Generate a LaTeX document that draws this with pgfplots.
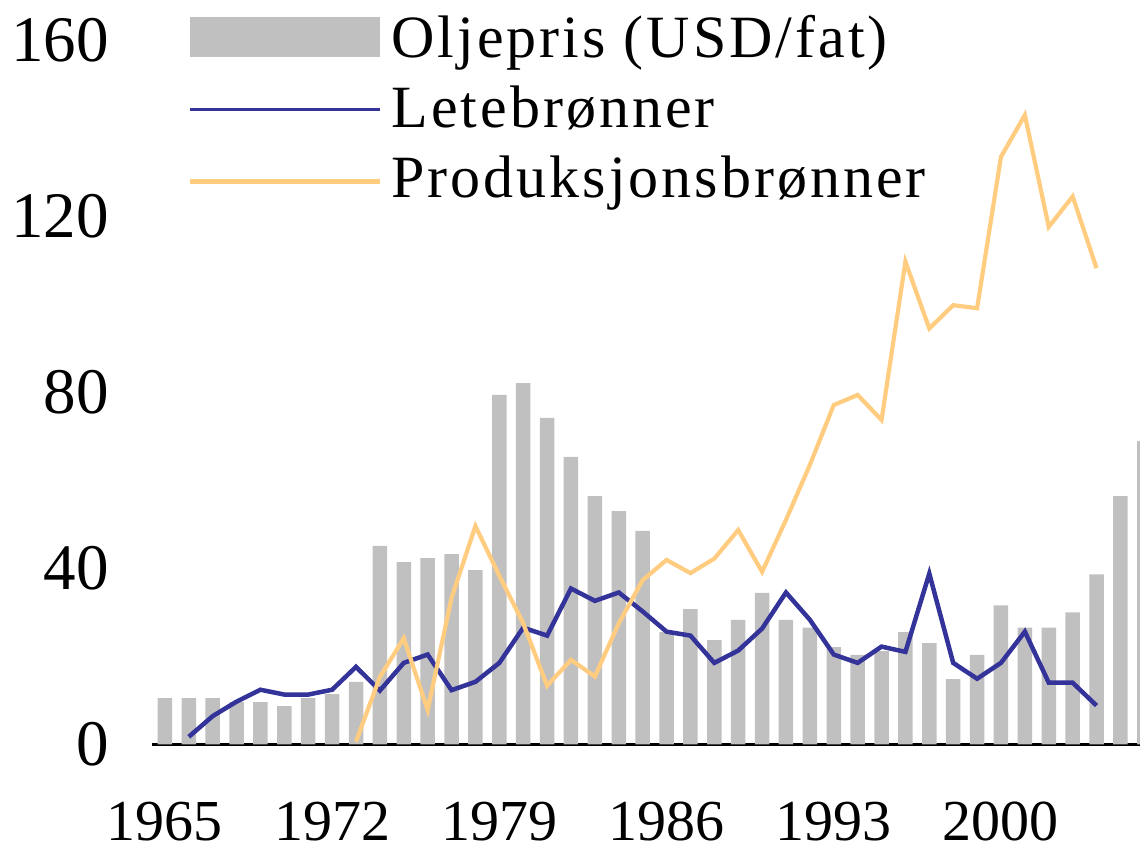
\documentclass[border=0pt]{standalone}
\usepackage{fontspec}
\setmainfont{Liberation Serif}
\newfontfamily\legfont[LetterSpace=5]{Liberation Serif}
\usepackage{pgfplots}
\pgfplotsset{compat=1.18}
\definecolor{barc}{RGB}{192,192,192}
\definecolor{blu}{RGB}{51,51,153}
\definecolor{ora}{RGB}{255,204,128}
\begin{document}
\begin{tikzpicture}
\begin{axis}[
  scale only axis, width=494pt, height=352pt,
  xmin=1964.46, xmax=2005.82, ymin=0, ymax=160,
  axis x line*=bottom, axis y line*=left,
  x axis line style={line width=1.7pt, -},
  y axis line style={draw=none},
  major tick length=0pt,
  xtick={1965,1972,1979,1986,1993,2000},
  ytick={0,40,80,120,160},
  /pgf/number format/1000 sep={},
  /pgf/number format/assume math mode=true,
  xticklabel style={font=\fontsize{29}{29}\selectfont, yshift=-25.5pt},
  yticklabel style={font=\fontsize{32.5}{32.5}\selectfont, xshift=-18pt},
  legend cell align=left,
  legend style={at={(axis description cs:0.0355,1.0445)}, anchor=north west,
    draw=none, fill=none, inner sep=0pt, row sep=0pt,
    font=\legfont\fontsize{30}{30}\selectfont,
    nodes={inner sep=0pt, text height=24pt, text depth=11pt, anchor=base west},
    column sep=4.5pt},
]
\addplot[ybar, bar width=7.25pt, fill=barc, draw=none,
  legend image code/.code={\fill[barc] (0pt,0pt) rectangle (95pt,20pt);}]
coordinates {
(1965,10.5) (1966,10.5) (1967,10.5) (1968,9.6) (1969,9.6) (1970,8.7)
(1971,10.5) (1972,11.4) (1973,14.2) (1974,45.1) (1975,41.4) (1976,42.3)
(1977,43.2) (1978,39.6) (1979,79.4) (1980,82.1) (1981,74.2) (1982,65.3)
(1983,56.4) (1984,53.0) (1985,48.5) (1986,25.5) (1987,30.7) (1988,23.7)
(1989,28.3) (1990,34.4) (1991,28.3) (1992,26.5) (1993,22.1) (1994,20.3)
(1995,21.2) (1996,25.5) (1997,23.0) (1998,14.8) (1999,20.3) (2000,31.6)
(2001,26.5) (2002,26.5) (2003,30.0) (2004,38.6) (2005,56.4) (2006,68.9)
};
\addlegendentry{Oljepris (USD/fat)}
\addplot[blu, line width=2.25pt,
  legend image code/.code={\draw[blu, line width=1.5pt] (0pt,9pt) -- (95pt,9pt);}]
coordinates {
(1966,1.7) (1967,6.4) (1968,9.7) (1969,12.4) (1970,11.3) (1971,11.3)
(1972,12.4) (1973,17.6) (1974,12.2) (1975,18.5) (1976,20.4) (1977,12.3)
(1978,14.2) (1979,18.5) (1980,26.5) (1981,24.7) (1982,35.4) (1983,32.6)
(1984,34.5) (1985,30.2) (1986,25.6) (1987,24.7) (1988,18.5) (1989,21.3)
(1990,26.3) (1991,34.5) (1992,28.3) (1993,20.4) (1994,18.5) (1995,22.2)
(1996,21.0) (1997,38.8) (1998,18.5) (1999,14.9) (2000,18.5) (2001,25.6)
(2002,14.0) (2003,14.0) (2004,8.8)
};
\addlegendentry{Letebrønner}
\addplot[ora, line width=2.1pt,
  legend image code/.code={\draw[ora, line width=2.5pt] (0pt,8pt) -- (95pt,8pt);}]
coordinates {
(1973,0.6) (1974,15.3) (1975,24.1) (1976,7.8) (1977,33.3) (1978,49.6)
(1979,38.3) (1980,27.5) (1981,13.3) (1982,19.2) (1983,15.4) (1984,27.5)
(1985,37.3) (1986,41.9) (1987,38.9) (1988,42.2) (1989,48.7) (1990,39.2)
(1991,51.0) (1992,63.5) (1993,77.1) (1994,79.4) (1995,73.7) (1996,109.7)
(1997,94.5) (1998,99.8) (1999,99.1) (2000,133.5) (2001,143.0) (2002,117.6)
(2003,124.5) (2004,108.2)
};
\addlegendentry{Produksjonsbrønner}
\coordinate (bl) at (rel axis cs:0,0);
\coordinate (tr) at (rel axis cs:1,1);
\end{axis}
\pgfresetboundingbox
\path[use as bounding box] ([shift={(-76pt,-54.85pt)}]bl) rectangle ([shift={(0pt,20.15pt)}]tr);
\end{tikzpicture}
\end{document}
